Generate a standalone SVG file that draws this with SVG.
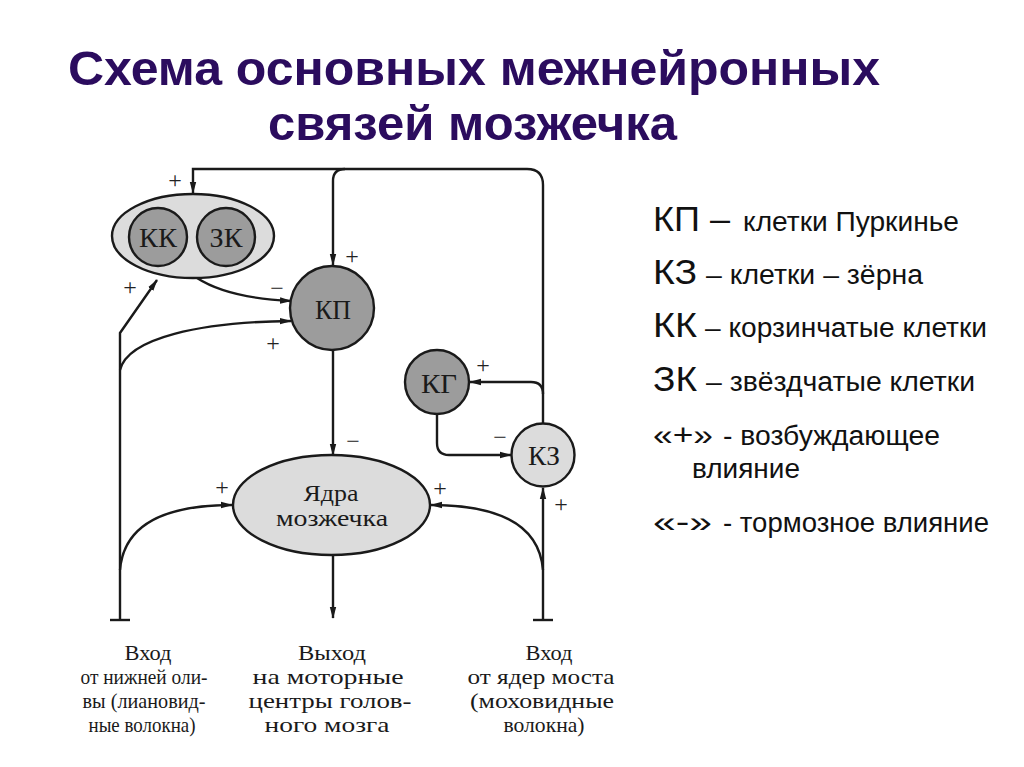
<svg xmlns="http://www.w3.org/2000/svg" width="1024" height="767" viewBox="0 0 1024 767">
<defs>
<marker id="ah" viewBox="0 0 12 8" refX="11" refY="4" markerWidth="12" markerHeight="8" markerUnits="userSpaceOnUse" orient="auto">
<path d="M0,0.8 L12,4 L0,7.2 Z" fill="#1a1a1a"/>
</marker>
<style>
.ln{fill:none;stroke:#1a1a1a;stroke-width:2.4}
.arr{marker-end:url(#ah)}
.dark{fill:#9c9c9c;stroke:#1a1a1a;stroke-width:2.4}
.light{fill:#dcdcdc;stroke:#1a1a1a;stroke-width:2.4}
.lbl{font-family:"Liberation Serif","Times New Roman",serif;fill:#1a1a1a;text-anchor:middle}
.sign{font-family:"Liberation Serif","Times New Roman",serif;font-size:24px;fill:#222;text-anchor:middle}
.title{font-family:"Liberation Sans",Arial,sans-serif;font-weight:bold;font-size:48px;fill:#2b0c5e}
.lg{font-family:"Liberation Sans",Arial,sans-serif;fill:#111}
</style>
</defs>
<rect width="1024" height="767" fill="#ffffff"/>
<g id="title">
<text class="title" x="68" y="85" textLength="812" lengthAdjust="spacingAndGlyphs">Схема основных межнейронных</text>
<text class="title" x="268" y="140" textLength="409" lengthAdjust="spacingAndGlyphs">связей мозжечка</text>
</g>
<g id="connectors">
<path class="ln arr" d="M543,423 L543,185 Q543,169 527,169 L193,169 L193,193"/>
<path class="ln arr" d="M345,169 Q333,169 333,181 L333,265"/>
<path class="ln arr" d="M543,394 Q543,382 531,382 L470,382"/>
<path class="ln arr" d="M437,414 L437,443 Q437,455 449,455 L511,455"/>
<path class="ln arr" d="M197,278 Q228,298 291,301"/>
<path class="ln arr" d="M120,620 L120,333 L157,280"/>
<path class="ln" d="M110,620 L130,620"/>
<path class="ln arr" d="M120,370 C128,338 200,322 291,321"/>
<path class="ln arr" d="M120,570 C124,522 170,505 232,505"/>
<path class="ln arr" d="M543,570 C539,522 495,505 431,505"/>
<path class="ln arr" d="M543,620 L543,488"/>
<path class="ln" d="M533,620 L553,620"/>
<path class="ln arr" d="M333,350 L333,455"/>
<path class="ln arr" d="M333,555 L333,618"/>
</g>
<g id="signs">
<text class="sign" x="175" y="188">+</text>
<text class="sign" x="130" y="295">+</text>
<text class="sign" x="277" y="296">−</text>
<text class="sign" x="352" y="264">+</text>
<text class="sign" x="273" y="351">+</text>
<text class="sign" x="353" y="449">−</text>
<text class="sign" x="222" y="495">+</text>
<text class="sign" x="440" y="496">+</text>
<text class="sign" x="483" y="373">+</text>
<text class="sign" x="500" y="445">−</text>
<text class="sign" x="561" y="512">+</text>
</g>
<g id="node-kk-zk">
<ellipse class="light" cx="193" cy="236" rx="81" ry="42"/>
<g id="node-kk">
<circle class="dark" cx="158" cy="237" r="29"/>
<text class="lbl" x="158" y="247" font-size="27" textLength="38" lengthAdjust="spacingAndGlyphs">КК</text>
</g>
<g id="node-zk">
<circle class="dark" cx="226" cy="237" r="29"/>
<text class="lbl" x="226" y="247" font-size="27" textLength="33" lengthAdjust="spacingAndGlyphs">ЗК</text>
</g>
</g>
<g id="node-kp">
<circle class="dark" cx="332" cy="308" r="42"/>
<text class="lbl" x="333" y="319" font-size="27" textLength="36" lengthAdjust="spacingAndGlyphs">КП</text>
</g>
<g id="node-kg">
<circle class="dark" cx="437" cy="382" r="32"/>
<text class="lbl" x="439" y="393" font-size="27" textLength="36" lengthAdjust="spacingAndGlyphs">КГ</text>
</g>
<g id="node-kz">
<circle class="light" cx="543" cy="455" r="31.5"/>
<text class="lbl" x="544" y="465" font-size="27" textLength="32" lengthAdjust="spacingAndGlyphs">КЗ</text>
</g>
<g id="node-nuclei">
<ellipse class="light" cx="331.5" cy="505" rx="98.5" ry="50"/>
<text class="lbl" x="331" y="501" font-size="23" textLength="55" lengthAdjust="spacingAndGlyphs">Ядра</text>
<text class="lbl" x="332" y="526" font-size="23" textLength="112" lengthAdjust="spacingAndGlyphs">мозжечка</text>
</g>
<g id="label-left">
<text class="lbl" x="148" y="660" font-size="22" textLength="47" lengthAdjust="spacingAndGlyphs">Вход</text>
<text class="lbl" x="144" y="684" font-size="22" textLength="127" lengthAdjust="spacingAndGlyphs">от нижней оли-</text>
<text class="lbl" x="144" y="708" font-size="22" textLength="123" lengthAdjust="spacingAndGlyphs">вы (лиановид-</text>
<text class="lbl" x="142" y="732" font-size="22" textLength="107" lengthAdjust="spacingAndGlyphs">ные волокна)</text>
</g>
<g id="label-middle">
<text class="lbl" x="332" y="660" font-size="22" textLength="68" lengthAdjust="spacingAndGlyphs">Выход</text>
<text class="lbl" x="328" y="684" font-size="22" textLength="151" lengthAdjust="spacingAndGlyphs">на моторные</text>
<text class="lbl" x="330" y="708" font-size="22" textLength="163" lengthAdjust="spacingAndGlyphs">центры голов-</text>
<text class="lbl" x="327" y="732" font-size="22" textLength="125" lengthAdjust="spacingAndGlyphs">ного мозга</text>
</g>
<g id="label-right">
<text class="lbl" x="549" y="660" font-size="22" textLength="47" lengthAdjust="spacingAndGlyphs">Вход</text>
<text class="lbl" x="541" y="684" font-size="22" textLength="147" lengthAdjust="spacingAndGlyphs">от ядер моста</text>
<text class="lbl" x="542" y="708" font-size="22" textLength="144" lengthAdjust="spacingAndGlyphs">(моховидные</text>
<text class="lbl" x="544" y="732" font-size="22" textLength="81" lengthAdjust="spacingAndGlyphs">волокна)</text>
</g>
<g id="legend">
<text class="lg" x="653" y="231" font-size="35" textLength="77" lengthAdjust="spacingAndGlyphs">КП –</text>
<text class="lg" x="743" y="231" font-size="27" textLength="216" lengthAdjust="spacingAndGlyphs">клетки Пуркинье</text>
<text class="lg" x="653" y="284" font-size="35" textLength="44" lengthAdjust="spacingAndGlyphs">КЗ</text>
<text class="lg" x="706" y="284" font-size="27" textLength="217" lengthAdjust="spacingAndGlyphs">– клетки – зёрна</text>
<text class="lg" x="653" y="337" font-size="35" textLength="44" lengthAdjust="spacingAndGlyphs">КК</text>
<text class="lg" x="705" y="337" font-size="27" textLength="282" lengthAdjust="spacingAndGlyphs">– корзинчатые клетки</text>
<text class="lg" x="653" y="391" font-size="35" textLength="44" lengthAdjust="spacingAndGlyphs">ЗК</text>
<text class="lg" x="706" y="391" font-size="27" textLength="269" lengthAdjust="spacingAndGlyphs">– звёздчатые клетки</text>
<text class="lg" x="653" y="445" font-size="30" textLength="60" lengthAdjust="spacingAndGlyphs">«+»</text>
<text class="lg" x="723" y="445" font-size="27" textLength="217" lengthAdjust="spacingAndGlyphs">- возбуждающее</text>
<text class="lg" x="692" y="478" font-size="27" textLength="108" lengthAdjust="spacingAndGlyphs">влияние</text>
<text class="lg" x="653" y="532" font-size="30" textLength="59" lengthAdjust="spacingAndGlyphs">«-»</text>
<text class="lg" x="723" y="532" font-size="27" textLength="266" lengthAdjust="spacingAndGlyphs">- тормозное влияние</text>
</g>
</svg>
